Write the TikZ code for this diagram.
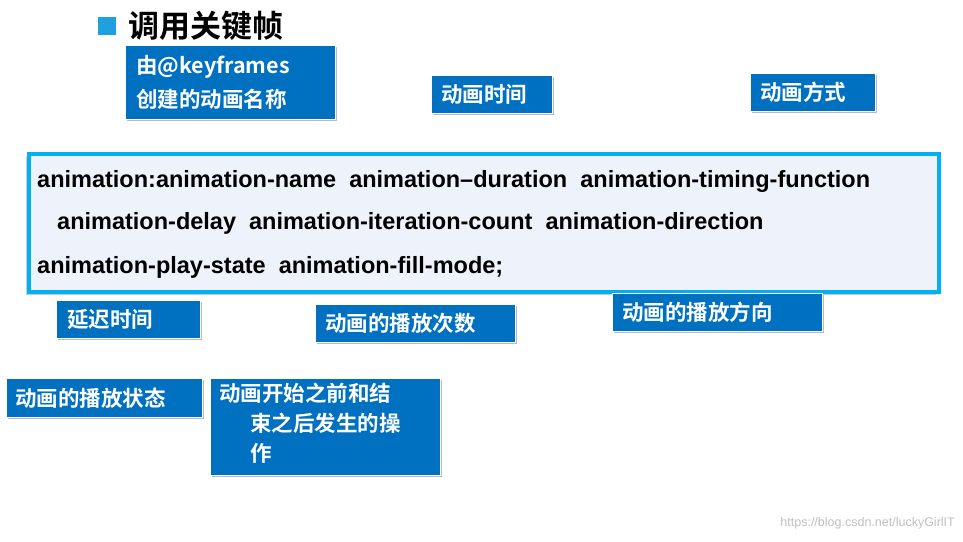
\documentclass[tikz,border=0pt]{standalone}
\usepackage{fontspec}
\setmainfont{Liberation Sans}
\newfontfamily\cjk{Noto Sans CJK SC}[BoldFont={* Bold}]
\usetikzlibrary{shadows}
\definecolor{bb}{HTML}{0070C0}
\definecolor{lb}{HTML}{00B0F0}
\definecolor{sq}{HTML}{1FA0E0}
\definecolor{mf}{HTML}{EEF3FB}
\tikzset{
 lbl/.style={fill=bb,draw=white,line width=0.6pt,anchor=north west,inner sep=0pt,drop shadow={shadow xshift=2pt,shadow yshift=-2pt,fill=black!45,opacity=0.6}},
 lt/.style={anchor=west,inner sep=0pt,align=left,text=white,font=\cjk\bfseries\fontsize{21.5}{34}\selectfont},
 txt/.style={anchor=west,inner sep=0pt,font=\bfseries\fontsize{23.5}{28}\selectfont},
}
\begin{document}
\begin{tikzpicture}[x=1pt,y=-1pt]
\useasboundingbox (0,0) rectangle (963,541);
\fill[sq] (98,17) rectangle (116,35);
\node[anchor=west,inner sep=0pt,font=\cjk\bfseries\fontsize{31}{36}\selectfont] (title) at (128,26) {调用关键帧};
% boxes
\node[lbl,minimum width=210pt,minimum height=74pt] (b1) at (125,45) {};
\node[lt] (b1t) at ([xshift=11pt]b1.west) {由@keyframes\\创建的动画名称};
\node[lbl,minimum width=121pt,minimum height=38pt] (b2) at (431,75) {};
\node[lt] at ([xshift=10pt]b2.west) {动画时间};
\node[lbl,minimum width=125pt,minimum height=38pt] (b3) at (750,73) {};
\node[lt] at ([xshift=10pt]b3.west) {动画方式};
% main
\node[draw=lb,line width=4pt,fill=mf,minimum width=910pt,minimum height=138pt,anchor=north west,inner sep=0pt,drop shadow={shadow xshift=-3pt,shadow yshift=-3pt,fill=black!40,opacity=0.5}] (main) at (27,152) {};
\node[txt] (l1) at (37,181) {animation:animation-name\ \ animation–duration\ \ animation-timing-function};
\node[txt] (l2) at (57,223) {animation-delay\ \ animation-iteration-count\ \ animation-direction};
\node[txt] (l3) at (37,267) {animation-play-state\ \ animation-fill-mode;};
% lower boxes
\node[lbl,minimum width=144pt,minimum height=38pt] (b4) at (56,300) {};
\node[lt] at ([xshift=11pt]b4.west) {延迟时间};
\node[lbl,minimum width=200pt,minimum height=38pt] (b5) at (315,304) {};
\node[lt] at ([xshift=10pt]b5.west) {动画的播放次数};
\node[lbl,minimum width=210pt,minimum height=38pt] (b6) at (612,293) {};
\node[lt] at ([xshift=10pt]b6.west) {动画的播放方向};
\node[lbl,minimum width=196pt,minimum height=39pt] (b7) at (6,378) {};
\node[lt] at ([xshift=9pt]b7.west) {动画的播放状态};
\node[lbl,minimum width=230pt,minimum height=97pt] (b8) at (210,378) {};
\node[lt,anchor=north west,font=\cjk\bfseries\fontsize{21.5}{30}\selectfont] (b8t) at (219,383) {动画开始之前和结\\\hspace*{31pt}束之后发生的操\\\hspace*{31pt}作};
\node[anchor=east,inner sep=0pt,text=black!25,font=\fontsize{12.5}{14}\selectfont] (wm) at (955,523) {https://blog.csdn.net/luckyGirlIT};
\end{tikzpicture}
\end{document}
